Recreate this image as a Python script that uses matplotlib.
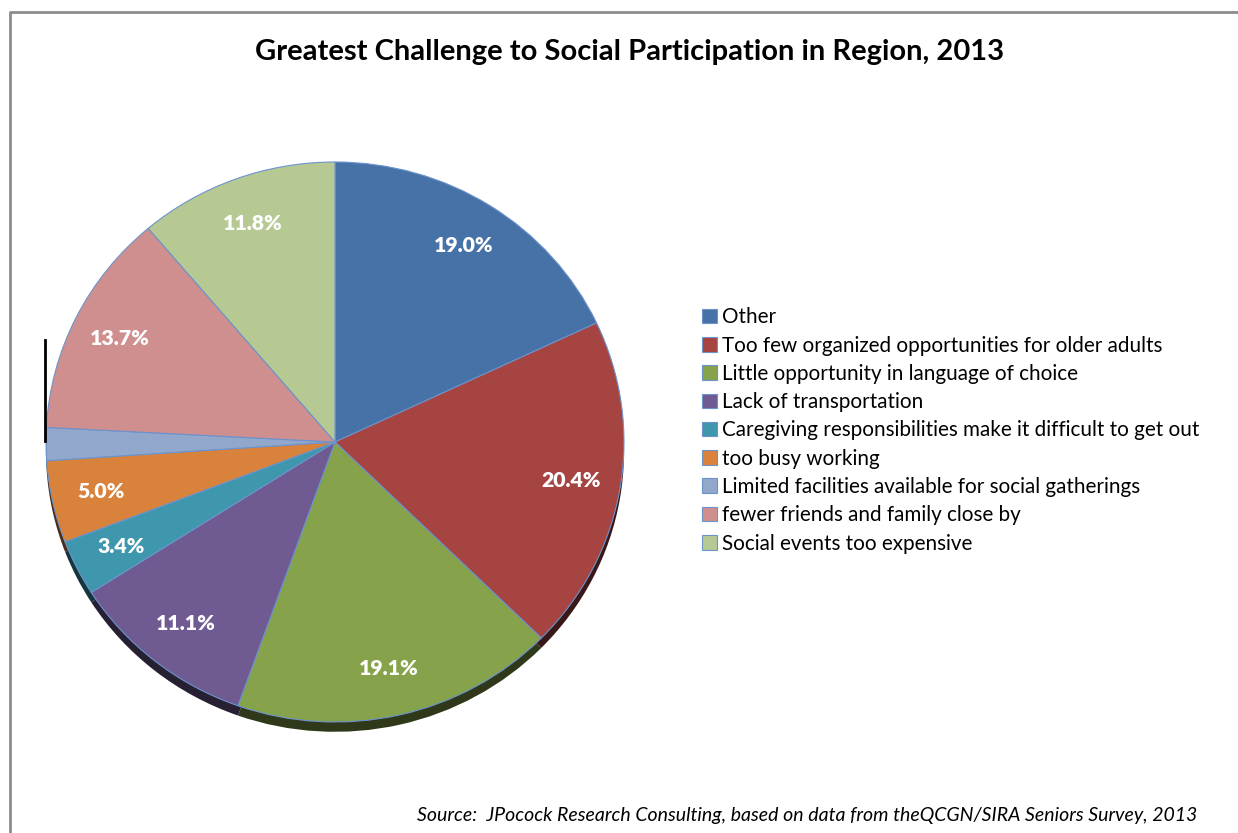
import numpy as np
import matplotlib.pyplot as plt
from matplotlib.lines import Line2D
from matplotlib.colors import to_rgb

categories = ["Other",
              "Too few organized opportunities for older adults",
              "Little opportunity in language of choice",
              "Lack of transportation",
              "Caregiving responsibilities make it difficult to get out",
              "too busy working",
              "Limited facilities available for social gatherings",
              "fewer friends and family close by",
              "Social events too expensive"]
values = [19.0, 20.4, 19.1, 11.1, 3.4, 5.0, 2.0, 13.7, 11.8]
shown = [True, True, True, True, True, True, False, True, True]
colors = ["#4672a8", "#a64442", "#86a24b", "#6f5a92", "#3f97ae",
          "#d9823b", "#91a7cc", "#cf8f8e", "#b6c993"]

W, H = 1238, 833
fig = plt.figure(figsize=(W / 100, H / 100), dpi=100)
plt.rcParams['font.family'] = ['Lato', 'DejaVu Sans']

# pie sits in an ellipse (tilted look): centre (335, 442), rx 289, ry 280 px
cx, cy, rx, ry = 335, 442, 289, 280
ax = fig.add_axes([(cx - rx) / W, 1 - (cy + ry) / H, 2 * rx / W, 2 * ry / H])

def darker(c, f=0.35):
    r, g, b = to_rgb(c)
    return (r * f, g * f, b * f)

# depth under the pie
ax.pie(values, colors=[darker(c) for c in colors], startangle=90, counterclock=False,
       center=(0, -0.035), wedgeprops=dict(linewidth=0))
wedges, _ = ax.pie(values, colors=colors, startangle=90, counterclock=False,
                   wedgeprops=dict(edgecolor="#6d93cc", linewidth=0.8))
ax.set_aspect('auto')
ax.set_xlim(-1, 1)
ax.set_ylim(-1, 1)
ax.axis('off')

for w, v, s in zip(wedges, values, shown):
    if not s:
        continue
    mid = np.deg2rad((w.theta1 + w.theta2) / 2)
    ax.text(0.83 * np.cos(mid), 0.83 * np.sin(mid), f"{v:.1f}%", color="white",
            fontsize=15.3, fontweight="heavy", ha="center", va="center")

fig.legend(wedges, categories, loc="upper left", bbox_to_anchor=(694 / W, 1 - 299 / H),
           frameon=False, fontsize=14.9, handlelength=0.7, handleheight=0.7,
           handletextpad=0.25, labelspacing=0.40, borderaxespad=0)

fig.text(630 / W, 1 - 52 / H, "Greatest Challenge to Social Participation in Region, 2013",
         ha="center", va="center", fontsize=21, fontweight="bold")
fig.text(1197 / W, 1 - 815 / H,
         "Source:  JPocock Research Consulting, based on data from theQCGN/SIRA Seniors Survey, 2013",
         ha="right", va="center", fontsize=14, style="italic")

# outer frame and the stray vertical rule on the left
fig.add_artist(Line2D([10 / W, 10 / W, 1], [0, 1 - 12 / H, 1 - 12 / H], color="#8c8c8c", lw=2))
fig.add_artist(Line2D([45 / W, 45 / W], [1 - 340 / H, 1 - 441 / H], color="black", lw=2))

fig.savefig("out.png", dpi=100)
